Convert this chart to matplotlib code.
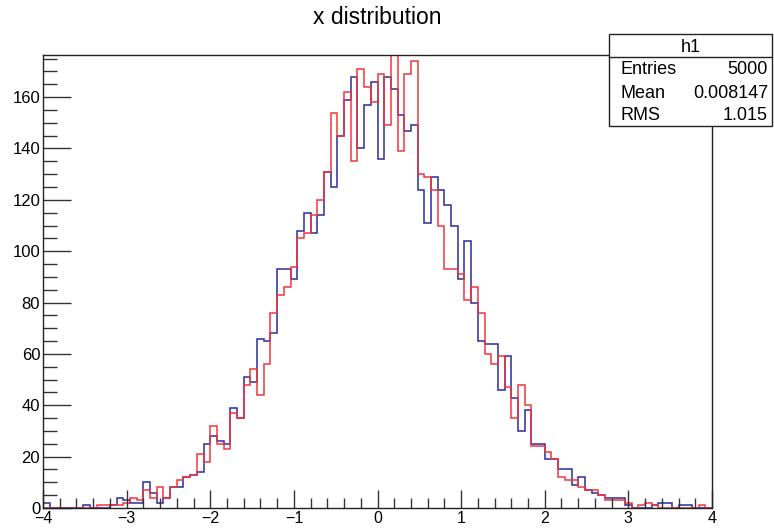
"""ROOT-style histogram: x distribution, two overlaid step histograms."""

import numpy as np
import matplotlib

matplotlib.use("Agg")
import matplotlib.pyplot as plt
from matplotlib.patches import Rectangle
from matplotlib.lines import Line2D
from matplotlib.ticker import MultipleLocator

# ── data: 100 bins from -4 to 4 ────────────────────────────────────────────
x_lo, x_hi, n_bins = -4.0, 4.0, 100

h1_counts = [
    2, 0, 0, 0, 0, 0, 1, 0, 0, 0,
    1, 4, 3, 2, 2, 10, 6, 2, 4, 8,
    8, 12, 13, 14, 25, 28, 26, 25, 39, 35,
    51, 49, 66, 65, 68, 93, 93, 89, 108, 115,
    107, 114, 131, 125, 145, 159, 168, 140, 157, 166,
    136, 168, 163, 153, 147, 149, 124, 111, 129, 124,
    118, 110, 89, 104, 80, 65, 64, 64, 46, 59,
    43, 30, 38, 25, 25, 19, 19, 15, 15, 9,
    12, 7, 6, 5, 4, 4, 4, 1, 0, 0,
    0, 1, 2, 2, 0, 1, 1, 0, 0, 0,
]

h2_counts = [
    0, 0, 0, 0, 0, 0, 0, 0, 1, 1,
    1, 1, 2, 4, 3, 7, 4, 8, 4, 8,
    11, 12, 13, 21, 18, 32, 25, 23, 37, 35,
    48, 54, 44, 56, 76, 83, 86, 94, 105, 107,
    114, 120, 131, 154, 145, 162, 135, 171, 164, 158,
    169, 149, 183, 139, 169, 174, 130, 129, 124, 110,
    93, 93, 91, 81, 86, 76, 60, 56, 59, 47,
    35, 48, 40, 24, 24, 22, 19, 12, 11, 11,
    8, 7, 7, 5, 3, 3, 3, 2, 0, 1,
    2, 1, 0, 0, 0, 0, 0, 0, 1, 0,
]

stats_name = "h1"
stats_rows = [("Entries", "5000"), ("Mean", "0.008147"), ("RMS", "1.015")]

# ── figure ─────────────────────────────────────────────────────────────────
W, H = 774, 528
plt.rcParams["font.family"] = ["Liberation Sans", "DejaVu Sans"]

fig = plt.figure(figsize=(W / 100, H / 100), dpi=100)
ax = fig.add_axes([43 / W, 1 - 508 / H, (712 - 43) / W, (508 - 55) / H])

edges = np.linspace(x_lo, x_hi, n_bins + 1)
ax.stairs(h1_counts, edges, color="#2b2b9c", lw=1.1)
ax.stairs(h2_counts, edges, color="#f0353f", lw=1.1)

ax.set_xlim(x_lo, x_hi)
ax.set_ylim(0, 1.05 * max(h1_counts))

ax.xaxis.set_major_locator(MultipleLocator(1))
ax.xaxis.set_minor_locator(MultipleLocator(0.2))
ax.yaxis.set_major_locator(MultipleLocator(20))
ax.yaxis.set_minor_locator(MultipleLocator(5))

ax.tick_params(axis="both", which="both", direction="in", top=False, right=False,
               width=1, color="#333333")
ax.tick_params(axis="x", which="major", length=13, pad=2, labelsize=11.5)
ax.tick_params(axis="x", which="minor", length=7)
ax.tick_params(axis="y", which="major", length=20, pad=2, labelsize=12)
ax.tick_params(axis="y", which="minor", length=10)
for s in ax.spines.values():
    s.set_linewidth(1)
    s.set_color("#222222")

fig.text(377 / W, 1 - 18 / H, "x distribution", ha="center", va="center", fontsize=16.5)

# ── stats box (covers the top-right corner of the frame) ───────────────────
bx0, bx1, by0, by1, bsep = 609, 772, 34, 126, 57
fig.patches.append(Rectangle((bx0 / W, 1 - by1 / H), (bx1 - bx0) / W, (by1 - by0) / H,
                             transform=fig.transFigure, facecolor="white",
                             edgecolor="#222222", lw=1, zorder=5))
fig.lines.append(Line2D([bx0 / W, bx1 / W], [1 - bsep / H] * 2,
                        transform=fig.transFigure, color="#222222", lw=1, zorder=6))
fig.text((bx0 + bx1) / 2 / W, 1 - 47 / H, stats_name, ha="center", va="center",
         fontsize=13, zorder=7)
for i, (lab, val) in enumerate(stats_rows):
    yy = 1 - (70 + 23 * i) / H
    fig.text(620 / W, yy, lab, ha="left", va="center", fontsize=13, zorder=7)
    fig.text(768 / W, yy, val, ha="right", va="center", fontsize=13, zorder=7)

fig.savefig("out.png", dpi=100)
